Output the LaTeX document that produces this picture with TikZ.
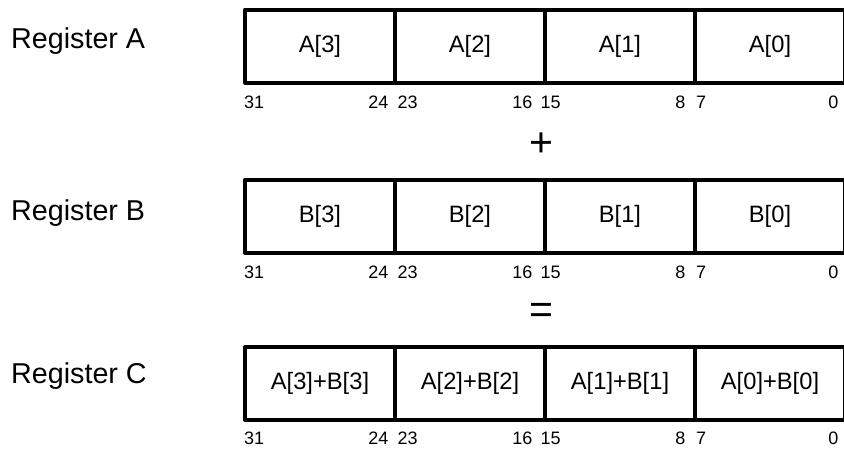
\documentclass[tikz,border=0pt]{standalone}
\usepackage{fontspec}
\setmainfont{Liberation Sans}
\begin{document}
\begin{tikzpicture}[x=1pt,y=-1pt,
  cell/.style={draw=black,line width=4pt,line join=round,minimum width=150pt,minimum height=73pt,inner sep=0pt,outer sep=0pt,font=\fontsize{23.7}{26}\selectfont},
  reglabel/.style={anchor=base west,inner sep=0pt,font=\fontsize{28.7}{31}\selectfont},
  bitlo/.style={anchor=base west,inner sep=0pt,font=\fontsize{18}{20}\selectfont},
  bithi/.style={anchor=base east,inner sep=0pt,font=\fontsize{18}{20}\selectfont},
  opsym/.style={anchor=base,inner sep=0pt,font=\fontsize{41}{44}\selectfont}]
\useasboundingbox (0,0) rectangle (844,448);
% Register labels
\node[reglabel] (la) at (11,48) {Register A};
\node[reglabel] (lb) at (11,220) {Register B};
\node[reglabel] (lc) at (11,383.5) {Register C};
% Register A
\node[cell] (a3) at (320,46) {A[3]};
\node[cell] (a2) at (470,46) {A[2]};
\node[cell] (a1) at (620,46) {A[1]};
\node[cell] (a0) at (770,46) {A[0]};
% Register B
\node[cell] (b3) at (320,216.3) {B[3]};
\node[cell] (b2) at (470,216.3) {B[2]};
\node[cell] (b1) at (620,216.3) {B[1]};
\node[cell] (b0) at (770,216.3) {B[0]};
% Register C
\node[cell] (c3) at (320,383.5) {A[3]+B[3]};
\node[cell] (c2) at (470,383.5) {A[2]+B[2]};
\node[cell] (c1) at (620,383.5) {A[1]+B[1]};
\node[cell] (c0) at (770,383.5) {A[0]+B[0]};
% operators
\node[opsym] (plus) at (541.7,156.7) {+};
\node[opsym] (eq) at (541.7,323.8) {=};
% bit labels
\foreach \r/\y in {a/108,b/278,c/444}{
  \node[bitlo] (\r31) at (244,\y) {31};
  \node[bithi] (\r24) at (388.5,\y) {24};
  \node[bitlo] (\r23) at (397.3,\y) {23};
  \node[bithi] (\r16) at (532.7,\y) {16};
  \node[bitlo] (\r15) at (540.5,\y) {15};
  \node[bithi] (\r8) at (685.7,\y) {8};
  \node[bitlo] (\r7) at (696,\y) {7};
  \node[bithi] (\r0) at (838.7,\y) {0};
}
\end{tikzpicture}
\end{document}
